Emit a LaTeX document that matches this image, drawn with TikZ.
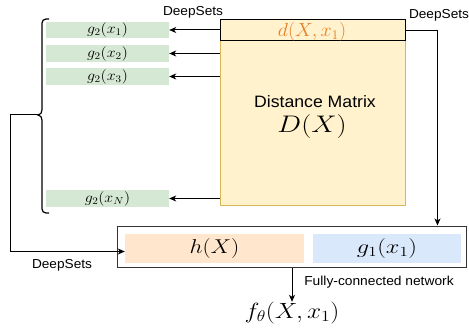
\documentclass[tikz,border=0pt]{standalone}
\usepackage{fix-cm}
\usepackage{graphicx}
\usepackage{fontspec}
\setmainfont{Liberation Sans}
\usetikzlibrary{arrows.meta,calc}
\definecolor{gfill}{HTML}{D5E8D4}
\definecolor{yfill}{HTML}{FFF2CC}
\definecolor{ydraw}{HTML}{D6B656}
\definecolor{pfill}{HTML}{FFE6CC}
\definecolor{bfill}{HTML}{DAE8FC}
\definecolor{dorange}{HTML}{E8802A}
\newcommand\wx[2]{\scalebox{#1}[1]{#2}}
\tikzset{
  gbox/.style={fill=gfill,draw=none,minimum width=123pt,minimum height=16.5pt,inner sep=0pt,font=\fontsize{14.5}{15}\selectfont},
  arr/.style={line width=1pt,-{Stealth[length=7pt,width=6pt,inset=2pt]}},
  lbl/.style={font=\fontsize{13}{15}\selectfont,inner sep=0pt},
  ln/.style={line width=1pt}
}
\begin{document}
\begin{tikzpicture}[x=1pt,y=-1pt]
\useasboundingbox (0,0) rectangle (469,329);
% distance matrix
\node[fill=yfill,draw=ydraw,line width=0.8pt,minimum width=185pt,minimum height=185pt,inner sep=0pt] (dm) at (312.5,112.5) {};
\node[fill=yfill,draw=black,line width=1pt,minimum width=185pt,minimum height=21pt,inner sep=0pt] (strip) at (312.5,30.5) {};
\node[inner sep=0pt,text=dorange,font=\fontsize{19}{20}\selectfont] (dtxt) at (312,32) {\wx{1.05}{$d(X,x_1)$}};
\node[inner sep=0pt,font=\fontsize{16.5}{19}\selectfont] (dmt) at (315,102) {\wx{1.07}{Distance Matrix}};
\node[inner sep=0pt,font=\fontsize{24}{26}\selectfont] (dx) at (312,127) {\wx{1.18}{$D(X)$}};
% green boxes
\node[gbox] (ga) at (107.5,30) {\wx{1.1}{$g_2(x_1)$}};
\node[gbox] (gb) at (107.5,53.5) {\wx{1.1}{$g_2(x_2)$}};
\node[gbox] (gc) at (107.5,76.5) {\wx{1.1}{$g_2(x_3)$}};
\node[gbox] (gn) at (107.5,198.5) {\wx{1.1}{$g_2(x_N)$}};
\draw[arr] (strip.west |- ga) -- (ga.east);
\draw[arr] (dm.west |- gb) -- (gb.east);
\draw[arr] (dm.west |- gc) -- (gc.east);
\draw[arr] (dm.west |- gn) -- (gn.east);
% brace
\coordinate (bt) at (38,115);
\draw[ln,line width=1.2pt] (49,19) -- (46,19) to[out=180,in=90] (42,23) -- (42,110) to[out=270,in=0] (38,115) to[out=0,in=90] (42,120) -- (42,209) to[out=270,in=180] (46,213) -- (49,213);
% bottom boxes
\node[draw=black!80,line width=1pt,minimum width=349pt,minimum height=41pt,inner sep=0pt] (outer) at (291.5,246.5) {};
\node[fill=pfill,minimum width=179pt,minimum height=29pt,inner sep=0pt,font=\fontsize{20}{22}\selectfont] (h) at (214.5,248.5) {\wx{1.15}{$h(X)$}};
\node[fill=bfill,minimum width=148pt,minimum height=29pt,inner sep=0pt,font=\fontsize{20}{22}\selectfont] (g1) at (387,248.5) {\wx{1.22}{$g_1(x_1)$}};
\node[inner sep=0pt,font=\fontsize{22}{24}\selectfont] (f) at (292,313) {\wx{1.15}{$f_\theta(X,x_1)$}};
% connectors
\draw[arr] (bt) -- (10,115) |- ([yshift=-3pt]h.west);
\draw[arr] (strip.east) -| ($(outer.north east)+(-29,0)$);
\draw[arr] (outer.south -| f.north) -- (f.north);
% labels
\node[lbl] (l1) at (193,12) {\wx{1.05}{DeepSets}};
\node[lbl] (l2) at (439,15) {\wx{1.05}{DeepSets}};
\node[lbl] (l3) at (62,265) {\wx{1.05}{DeepSets}};
\node[lbl] (l4) at (379,282) {\wx{1.06}{Fully-connected network}};
\end{tikzpicture}
\end{document}
